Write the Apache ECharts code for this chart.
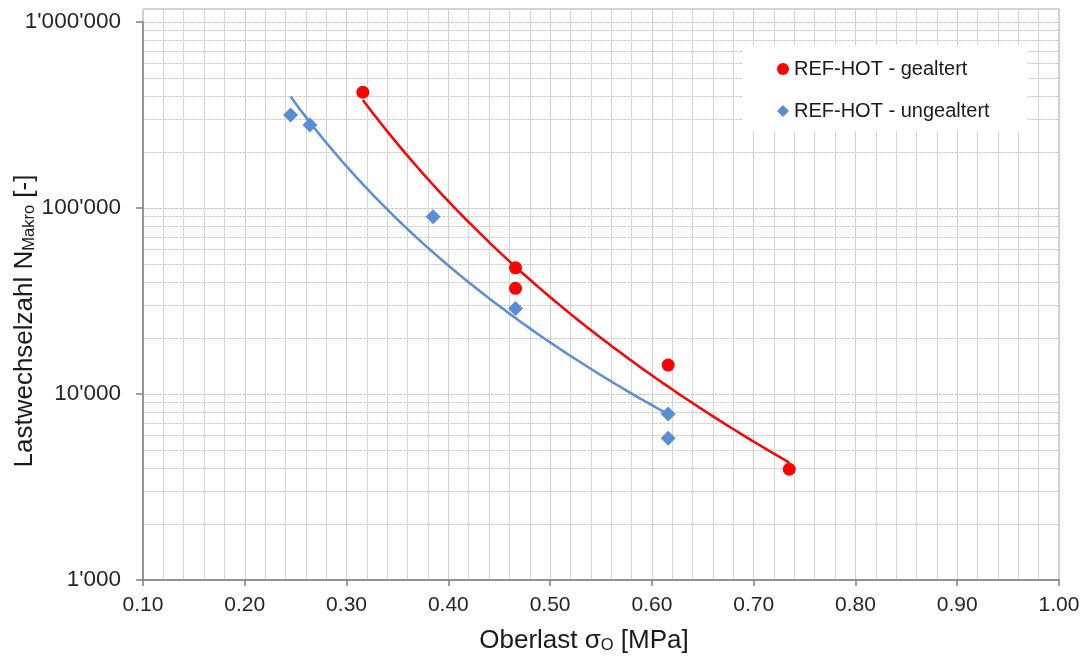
<!DOCTYPE html>
<html>
<head>
<meta charset="utf-8">
<script src="https://cdn.jsdelivr.net/npm/echarts@6/dist/echarts.min.js"></script>
<style>
html,body{margin:0;padding:0;background:#fff;}
#c{width:1088px;height:663px;}
</style>
</head>
<body>
<div id="c"></div>
<script>
// ---- data ----
const seriesNames = ['REF-HOT - gealtert', 'REF-HOT - ungealtert'];
const redX  = [0.316, 0.466, 0.466, 0.616, 0.735];
const redY  = [419000, 47700, 37000, 14300, 3940];
const blueX = [0.245, 0.264, 0.385, 0.466, 0.616, 0.616];
const blueY = [316000, 279000, 89800, 28800, 7800, 5780];
const xTickValues = [0.1, 0.2, 0.3, 0.4, 0.5, 0.6, 0.7, 0.8, 0.9, 1.0];
const yTickValues = [1000, 10000, 100000, 1000000];
const yMinorGrid = [2000,3000,4000,5000,6000,7000,8000,9000,
                    20000,30000,40000,50000,60000,70000,80000,90000,
                    200000,300000,400000,500000,600000,700000,800000,900000];

// power-law trendline (least squares in log-log space), as Excel does
function powerTrend(xs, ys, n) {
  const lx = xs.map(Math.log), ly = ys.map(Math.log);
  const m = lx.length;
  const mx = lx.reduce((a, b) => a + b, 0) / m;
  const my = ly.reduce((a, b) => a + b, 0) / m;
  let sxy = 0, sxx = 0;
  for (let i = 0; i < m; i++) { sxy += (lx[i] - mx) * (ly[i] - my); sxx += (lx[i] - mx) ** 2; }
  const b = sxy / sxx, a = my - b * mx;
  const x0 = Math.min(...xs), x1 = Math.max(...xs);
  const out = [];
  for (let i = 0; i <= n; i++) {
    const x = x0 + (x1 - x0) * i / n;
    out.push([x, Math.exp(a + b * Math.log(x))]);
  }
  return out;
}

const RED = '#FF0000';
const BLUE = '#5A8ED4';
const FONT = '"Liberation Sans", Arial, sans-serif';
const xMin = xTickValues[0], xMax = xTickValues[xTickValues.length - 1];

function fmtThousands(v) {
  return Math.round(v).toString().replace(/\B(?=(\d{3})+(?!\d))/g, "'");
}

const vSplit = {show: true, lineStyle: {color: '#cfcfcf', width: 1}};
const vMinor = {show: true, lineStyle: {color: '#d6d6d6', width: 1}};

const chart = echarts.init(document.getElementById('c'), null, {renderer: 'canvas'});
chart.setOption({
  animation: false,
  backgroundColor: '#fff',
  textStyle: {fontFamily: FONT},
  grid: [
    {left: 143, right: 29, top: 22, bottom: 83, containLabel: false},
    {left: 143, right: 29, top: 9, height: 13, containLabel: false}
  ],
  legend: {
    data: [
      {name: seriesNames[0], icon: 'circle'},
      {name: seriesNames[1], icon: 'diamond'}
    ],
    orient: 'vertical',
    left: 743, top: 45,
    padding: [14, 38, 10, 34],
    itemGap: 22,
    itemWidth: 12, itemHeight: 12,
    backgroundColor: '#fff',
    textStyle: {fontFamily: FONT, fontSize: 20, color: '#1a1a1a'},
    z: 20
  },
  xAxis: [
    {
      type: 'value', min: xMin, max: xMax, interval: 0.1, gridIndex: 0,
      axisLine: {show: true, onZero: false, lineStyle: {color: '#7f7f7f', width: 1.5}},
      axisTick: {show: true, inside: false, length: 6, lineStyle: {color: '#7f7f7f', width: 1.5}},
      axisLabel: {
        margin: 15, fontSize: 21, color: '#262626', fontFamily: FONT,
        formatter: v => v.toFixed(2)
      },
      splitLine: vSplit,
      minorTick: {show: false, splitNumber: 5},
      minorSplitLine: vMinor
    },
    {
      type: 'value', min: xMin, max: xMax, interval: 0.1, gridIndex: 1,
      axisLine: {show: false}, axisTick: {show: false}, axisLabel: {show: false},
      splitLine: vSplit,
      minorTick: {show: false, splitNumber: 5},
      minorSplitLine: vMinor
    }
  ],
  yAxis: [
    {
      type: 'log', logBase: 10, min: yTickValues[0], max: yTickValues[yTickValues.length - 1], gridIndex: 0,
      axisLine: {show: true, lineStyle: {color: '#7f7f7f', width: 1.5}},
      axisTick: {show: true, inside: false, length: 7, lineStyle: {color: '#7f7f7f', width: 1.5}},
      axisLabel: {
        margin: 22, fontSize: 22.5, color: '#262626', fontFamily: FONT,
        formatter: v => fmtThousands(v)
      },
      splitLine: {show: true, lineStyle: {color: '#c4c4c4', width: 1, type: [3, 1]}}
    },
    {
      type: 'value', min: 0, max: 1, gridIndex: 1, show: false
    }
  ],
  graphic: [
    {
      type: 'rect', silent: true, z: 0,
      shape: {x: 143, y: 9, width: 916, height: 571},
      style: {fill: 'none', stroke: '#a6a6a6', lineWidth: 1}
    },
    {
      type: 'text', x: 25, y: 321, rotation: Math.PI / 2,
      style: {
        text: 'Lastwechselzahl N{sub|Makro} [-]',
        font: '26px ' + FONT, fill: '#1a1a1a',
        align: 'center', verticalAlign: 'middle',
        rich: {sub: {fontSize: 16.5, fontFamily: FONT, fill: '#1a1a1a', verticalAlign: 'bottom', padding: [9, 0, 0, 0]}}
      }
    },
    {
      type: 'text', x: 584, y: 641,
      style: {
        text: 'Oberlast σ{sub|O} [MPa]',
        font: '26px ' + FONT, fill: '#1a1a1a',
        align: 'center', verticalAlign: 'middle',
        rich: {sub: {fontSize: 16.5, fontFamily: FONT, fill: '#1a1a1a', verticalAlign: 'bottom', padding: [9, 0, 0, 0]}}
      }
    }
  ],
  series: [
    {
      name: '_minorGrid', type: 'line', data: [], z: 0, silent: true,
      markLine: {
        silent: true, symbol: ['none', 'none'], label: {show: false}, z: 0,
        lineStyle: {color: '#cdcdcd', width: 1, type: [3, 1]},
        data: yMinorGrid.map(v => ({yAxis: v}))
      }
    },
    {
      name: seriesNames[0] + ' trend', type: 'line', showSymbol: false, z: 8,
      data: powerTrend(redX, redY, 80),
      lineStyle: {color: RED, width: 2.5}, itemStyle: {color: RED}
    },
    {
      name: seriesNames[1] + ' trend', type: 'line', showSymbol: false, z: 8,
      data: powerTrend(blueX, blueY, 80),
      lineStyle: {color: BLUE, width: 2.5}, itemStyle: {color: BLUE}
    },
    {
      name: seriesNames[0], type: 'scatter', symbol: 'circle', symbolSize: 13, z: 9,
      itemStyle: {color: RED, opacity: 1},
      data: redX.map((x, i) => [x, redY[i]])
    },
    {
      name: seriesNames[1], type: 'scatter', symbol: 'diamond', symbolSize: 15, z: 9,
      itemStyle: {color: BLUE, opacity: 1},
      data: blueX.map((x, i) => [x, blueY[i]])
    }
  ]
});
</script>
</body>
</html>
